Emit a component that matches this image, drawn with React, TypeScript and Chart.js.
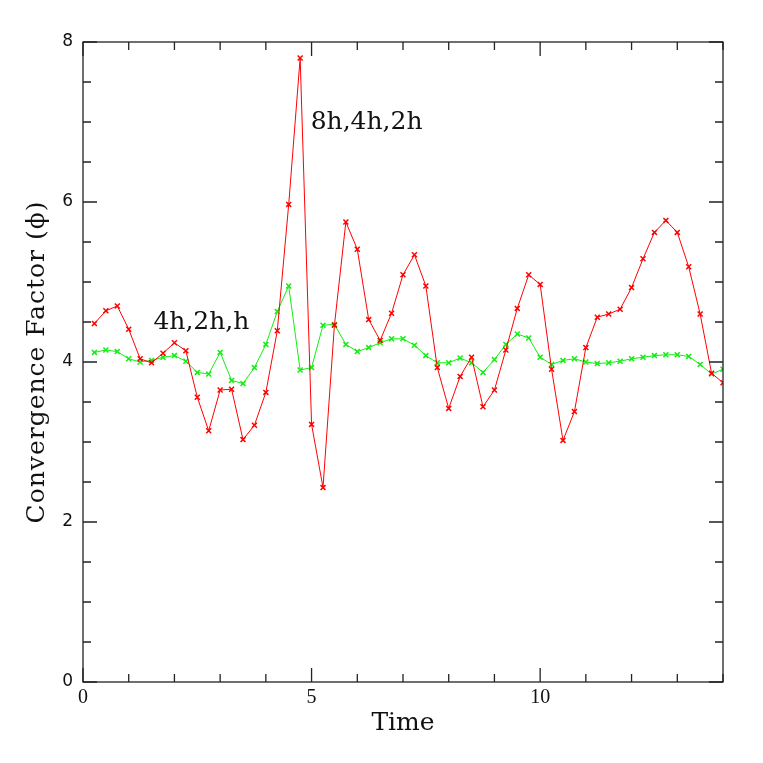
import React, { useEffect, useRef } from "react";
import { Chart, registerables } from "chart.js";

Chart.register(...registerables);

const times: number[] = [
  0.25, 0.5, 0.75, 1.0, 1.25, 1.5, 1.75, 2.0, 2.25, 2.5, 2.75, 3.0, 3.25, 3.5,
  3.75, 4.0, 4.25, 4.5, 4.75, 5.0, 5.25, 5.5, 5.75, 6.0, 6.25, 6.5, 6.75, 7.0,
  7.25, 7.5, 7.75, 8.0, 8.25, 8.5, 8.75, 9.0, 9.25, 9.5, 9.75, 10.0, 10.25,
  10.5, 10.75, 11.0, 11.25, 11.5, 11.75, 12.0, 12.25, 12.5, 12.75, 13.0, 13.25,
  13.5, 13.75, 14.0,
];

const red8h4h2h: number[] = [
  4.48, 4.64, 4.70, 4.41, 4.04, 3.99, 4.11, 4.24, 4.14, 3.56, 3.14, 3.65, 3.66,
  3.03, 3.21, 3.62, 4.39, 5.97, 7.80, 3.22, 2.43, 4.46, 5.75, 5.41, 4.53, 4.27,
  4.61, 5.09, 5.34, 4.95, 3.93, 3.42, 3.82, 4.06, 3.44, 3.65, 4.15, 4.67, 5.09,
  4.97, 3.91, 3.02, 3.38, 4.18, 4.56, 4.60, 4.66, 4.93, 5.29, 5.62, 5.77, 5.62,
  5.19, 4.60, 3.86, 3.74,
];

const green4h2hh: number[] = [
  4.12, 4.15, 4.13, 4.04, 4.00, 4.02, 4.06, 4.08, 4.01, 3.87, 3.85, 4.12, 3.77,
  3.73, 3.93, 4.22, 4.63, 4.95, 3.90, 3.93, 4.46, 4.47, 4.22, 4.13, 4.18, 4.24,
  4.29, 4.29, 4.21, 4.08, 3.99, 3.99, 4.05, 3.99, 3.87, 4.03, 4.22, 4.35, 4.30,
  4.06, 3.97, 4.02, 4.04, 4.00, 3.98, 3.99, 4.01, 4.04, 4.06, 4.08, 4.09, 4.09,
  4.07, 3.97, 3.85, 3.91,
];

const xMajorTicks: number[] = [0, 5, 10];
const yMajorTicks: number[] = [0, 2, 4, 6, 8];
const yTitle = "Convergence Factor (\u03D5)";

const annotations: { text: string; t: number; v: number }[] = [
  { text: "4h,2h,h", t: 1.54, v: 4.5 },
  { text: "8h,4h,2h", t: 4.98, v: 7.0 },
];

const framePlugin = {
  id: "frame",
  afterDraw(chart: any) {
    const { ctx, chartArea } = chart;
    const xs = chart.scales.x;
    const ys = chart.scales.y;
    const { left, right, top, bottom } = chartArea;
    ctx.save();
    ctx.strokeStyle = "#222";
    ctx.lineWidth = 1.3;
    ctx.strokeRect(left, top, right - left, bottom - top);
    ctx.beginPath();
    for (let t = 0; t <= 14; t += 1) {
      const px = xs.getPixelForValue(t);
      const len = t % 5 === 0 ? 14 : 8;
      ctx.moveTo(px, bottom);
      ctx.lineTo(px, bottom - len);
      ctx.moveTo(px, top);
      ctx.lineTo(px, top + len);
    }
    for (let i = 0; i <= 16; i++) {
      const v = i * 0.5;
      const py = ys.getPixelForValue(v);
      const len = i % 4 === 0 ? 14 : 8;
      ctx.moveTo(left, py);
      ctx.lineTo(left + len, py);
      ctx.moveTo(right, py);
      ctx.lineTo(right - len, py);
    }
    ctx.stroke();
    ctx.fillStyle = "#111";
    ctx.font = "25px 'DejaVu Serif'";
    ctx.textBaseline = "middle";
    ctx.textAlign = "left";
    for (const a of annotations) {
      ctx.fillText(a.text, xs.getPixelForValue(a.t), ys.getPixelForValue(a.v));
    }
    // y axis title
    ctx.translate(37, (top + bottom) / 2);
    ctx.rotate(-Math.PI / 2);
    (ctx as any).letterSpacing = "1px";
    ctx.textAlign = "center";
    ctx.fillText(yTitle, 0, 0);
    ctx.restore();
  },
};

export default function App() {
  const ref = useRef<HTMLCanvasElement | null>(null);
  useEffect(() => {
    if (!ref.current) return;
    const chart = new Chart(ref.current, {
      type: "line",
      data: {
        labels: times,
        datasets: [
          {
            label: "8h,4h,2h",
            data: times.map((t, i) => ({ x: t, y: red8h4h2h[i] })),
            borderColor: "#ff0000",
            backgroundColor: "#ff0000",
            borderWidth: 1,
            pointStyle: "crossRot",
            pointRadius: 3.5,
            pointBorderWidth: 1.5,
            tension: 0,
          },
          {
            label: "4h,2h,h",
            data: times.map((t, i) => ({ x: t, y: green4h2hh[i] })),
            borderColor: "#11ee11",
            backgroundColor: "#11ee11",
            borderWidth: 1,
            pointStyle: "crossRot",
            pointRadius: 3.5,
            pointBorderWidth: 1.5,
            tension: 0,
          },
        ],
      },
      options: {
        responsive: false,
        animation: false,
        layout: { padding: { left: 0, top: 42, right: 40, bottom: 0 } },
        plugins: { legend: { display: false }, tooltip: { enabled: false } },
        scales: {
          x: {
            type: "linear",
            min: 0,
            max: 14,
            grid: { display: false, drawTicks: false },
            border: { display: false },
            afterBuildTicks: (scale: any) => {
              scale.ticks = xMajorTicks.map((v) => ({ value: v }));
            },
            afterFit: (scale: any) => {
              scale.height = 81;
            },
            ticks: {
              padding: 4,
              color: "#111",
              font: { family: "'Liberation Serif'", size: 20 },
              maxRotation: 0,
            },
            title: {
              display: true,
              text: "Time",
              color: "#111",
              font: { family: "'DejaVu Serif'", size: 25 },
              padding: { top: 0, bottom: 25 },
            },
          },
          y: {
            type: "linear",
            min: 0,
            max: 8,
            grid: { display: false, drawTicks: false },
            border: { display: false },
            afterBuildTicks: (scale: any) => {
              scale.ticks = yMajorTicks.map((v) => ({ value: v }));
            },
            afterFit: (scale: any) => {
              scale.width = 83;
            },
            ticks: {
              padding: 10,
              color: "#111",
              font: { family: "'DejaVu Sans'", size: 17 },
            },
            title: { display: false },
          },
        },
      },
      plugins: [framePlugin],
    });
    return () => chart.destroy();
  }, []);
  return (
    <div style={{ position: "absolute", left: 0, top: 0, width: 763, height: 763, background: "#fff" }}>
      <canvas ref={ref} width={763} height={763} />
    </div>
  );
}
